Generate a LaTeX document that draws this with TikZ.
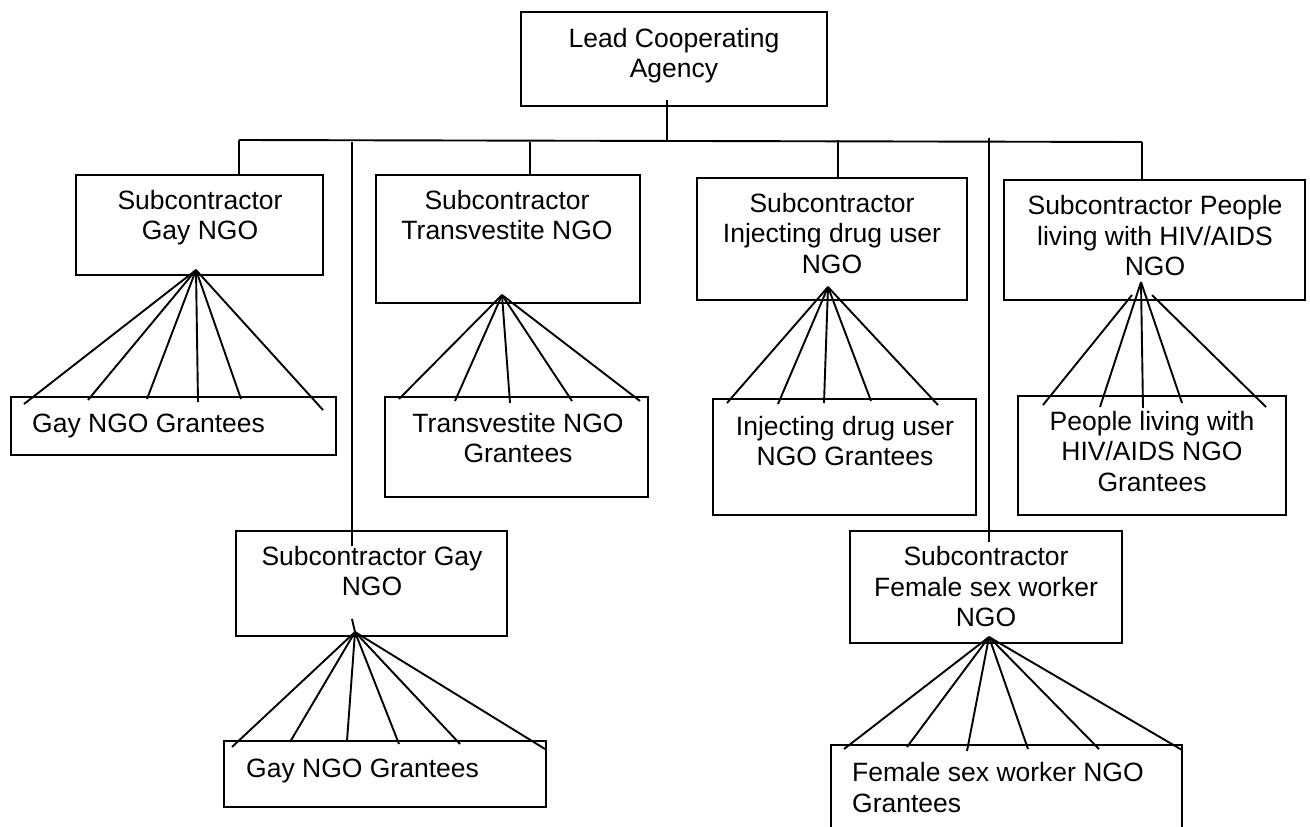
\documentclass[tikz,border=0pt]{standalone}
\usepackage{fontspec}
\setmainfont{Liberation Sans}
\usetikzlibrary{calc}
\begin{document}
\begin{tikzpicture}[x=1pt,y=-1pt]
\tikzset{
  box/.style={draw=black, line width=1.9pt, inner sep=0pt, rectangle},
  lbl/.style={inner sep=0pt, align=center, font=\fontsize{26.5}{30.5}\selectfont,
              execute at begin node=\strut, execute at end node=\strut},
  lbll/.style={lbl, align=left},
  wire/.style={draw=black, line width=1.9pt}
}
\clip (0,0) rectangle (1310,827);
% boxes
\node[box, minimum width=306pt, minimum height=94pt]  (lead) at (674,59) {};
\node[box, minimum width=247pt, minimum height=100pt] (sub1) at (199.5,225) {};
\node[box, minimum width=264pt, minimum height=128pt] (sub2) at (508,239) {};
\node[box, minimum width=270pt, minimum height=122pt] (sub3) at (832,239) {};
\node[box, minimum width=301pt, minimum height=120pt] (sub4) at (1154.5,240) {};
\node[box, minimum width=271pt, minimum height=105pt] (sub5) at (371.5,583.5) {};
\node[box, minimum width=272pt, minimum height=112pt] (sub6) at (986,587) {};
\node[box, minimum width=325pt, minimum height=58pt]  (g1) at (173.5,426) {};
\node[box, minimum width=263pt, minimum height=100pt] (g2) at (516.5,447) {};
\node[box, minimum width=263pt, minimum height=116pt] (g3) at (844.5,457) {};
\node[box, minimum width=268pt, minimum height=119pt] (g4) at (1152,455.5) {};
\node[box, minimum width=322pt, minimum height=66pt]  (g5) at (385,774) {};
\node[box, minimum width=351pt, minimum height=95pt]  (g6) at (1006.5,792.5) {};
% texts
\node[lbl] (tlead) at (674,57.7) {Lead Cooperating\\Agency};
\node[lbl] (tsub1) at (200,219.7) {Subcontractor\\Gay NGO};
\node[lbl] (tsub2) at (507,219.7) {Subcontractor\\Transvestite NGO};
\node[lbl] (tsub3) at (832,237.9) {Subcontractor\\Injecting drug user\\NGO};
\node[lbl] (tsub4) at (1155,240) {Subcontractor People\\living with HIV/AIDS\\NGO};
\node[lbl] (tsub5) at (372,575.3) {Subcontractor Gay\\NGO};
\node[lbl] (tsub6) at (986,591.4) {Subcontractor\\Female sex worker\\NGO};
\node[lbll, anchor=west] (tg1) at (32,426.4) {Gay NGO Grantees};
\node[lbl] (tg2) at (518,442.7) {Transvestite NGO\\Grantees};
\node[lbl] (tg3) at (845,445.7) {Injecting drug user\\NGO Grantees};
\node[lbl] (tg4) at (1152,455.9) {People living with\\HIV/AIDS NGO\\Grantees};
\node[lbll, anchor=west] (tg5) at (246,771) {Gay NGO Grantees};
\node[lbll, anchor=west] (tg6) at (852,792) {Female sex worker NGO\\Grantees};
% bus and drops
\coordinate (lc) at (667,142);
\coordinate (busL) at (239,142);
\coordinate (busR) at (1142,142);
\coordinate (b2) at (530,142);
\coordinate (b3) at (838,142);
\coordinate (b5) at (352,142);
\coordinate (b6) at (989,138);
\draw[wire] ($(lead.south)+(-7,-7)$) -- (lc);
\draw[wire] ([yshift=2pt]busL) -- (busR);
\draw[wire] ([yshift=2pt]busL) -- (busL |- sub1.north);
\draw[wire] (b2) -- (b2 |- sub2.north);
\draw[wire] ([yshift=2pt]b3) -- (b3 |- sub3.north);
\draw[wire] (busR) -- (busR |- sub4.north);
\draw[wire] (b5) -- ($(b5 |- sub5.north)+(0,16)$);
\draw[wire] (b6) -- ($(b6 |- sub6.north)+(0,12)$);
% fans
\coordinate (f1) at (196,270);
\foreach \x/\y [count=\i] in {24/404,88/400,147/399,198/402,241/399,323/410}
  {\coordinate (f1e\i) at (\x,\y); \draw[wire] (f1) -- (f1e\i);}
\coordinate (f2) at (502,295);
\foreach \x/\y [count=\i] in {399/399,455/401,510/403,572/401,640/401}
  {\coordinate (f2e\i) at (\x,\y); \draw[wire] (f2) -- (f2e\i);}
\coordinate (f3) at (828,287);
\foreach \x/\y [count=\i] in {727/403,778/404,824/403,871/401,938/405}
  {\coordinate (f3e\i) at (\x,\y); \draw[wire] (f3) -- (f3e\i);}
\coordinate (f4) at (1141,282);
\coordinate (f4a) at (1132,295);
\coordinate (f4b) at (1152,295);
\coordinate (f4e1) at (1043,405);
\coordinate (f4e5) at (1266,407);
\draw[wire] (f4a) -- (f4e1);
\draw[wire] (f4b) -- (f4e5);
\foreach \x/\y [count=\i] in {1100/407,1143/408,1182/403}
  {\coordinate (f4m\i) at (\x,\y); \draw[wire] (f4) -- (f4m\i);}
\coordinate (f5) at (355,632);
\coordinate (f5t) at (352,619);
\draw[wire] (f5t) -- (f5);
\foreach \x/\y [count=\i] in {232/747,290/742,347/741,399/744,460/744,545/749}
  {\coordinate (f5e\i) at (\x,\y); \draw[wire] (f5) -- (f5e\i);}
\coordinate (f6) at (989,637);
\foreach \x/\y [count=\i] in {844/749,907/747,967/751,1028/749,1099/749,1182/750}
  {\coordinate (f6e\i) at (\x,\y); \draw[wire] (f6) -- (f6e\i);}
\end{tikzpicture}
\end{document}
